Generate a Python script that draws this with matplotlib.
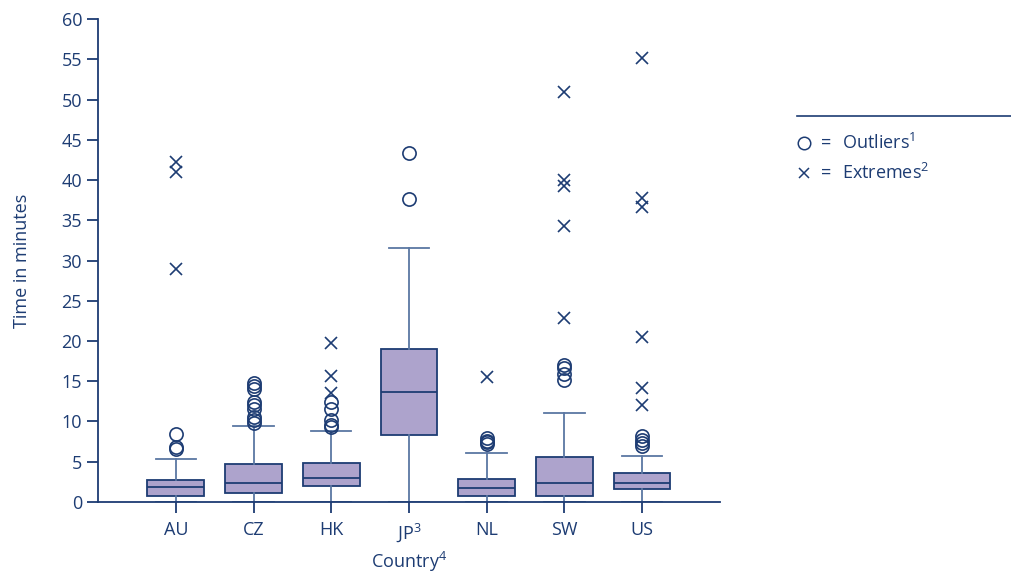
import matplotlib
matplotlib.use("Agg")
import matplotlib.pyplot as plt
from matplotlib.lines import Line2D

plt.rcParams['font.family'] = ['Open Sans', 'DejaVu Sans']
plt.rcParams['mathtext.fontset'] = 'custom'
plt.rcParams['mathtext.rm'] = 'Open Sans'
plt.rcParams['mathtext.it'] = 'Open Sans'
plt.rcParams['mathtext.bf'] = 'Open Sans'

# datos (minutos)
paises = ['AU', 'CZ', 'HK', 'JP$^{3}$', 'NL', 'SW', 'US']
bigote_inf = [0, 0, 0, 0, 0, 0, 0]
q1 = [0.75, 1.15, 2.0, 8.3, 0.75, 0.75, 1.6]
mediana = [1.85, 2.4, 3.0, 13.7, 1.8, 2.4, 2.4]
q3 = [2.7, 4.7, 4.8, 19.0, 2.85, 5.6, 3.6]
bigote_sup = [5.3, 9.5, 8.8, 31.6, 6.1, 11.1, 5.75]
atipicos = [
    [8.5, 6.8, 6.6],
    [14.8, 14.4, 14.0, 12.4, 12.0, 11.6, 10.6, 10.2, 9.8],
    [12.4, 11.5, 10.2, 9.6, 9.3],
    [43.3, 37.6],
    [8.0, 7.6, 7.4, 7.2],
    [17.0, 16.7, 15.9, 15.2],
    [8.2, 7.7, 7.3, 6.9],
]
extremos = [
    [42.2, 41.0, 29.0],
    [],
    [19.8, 15.7, 13.6],
    [],
    [15.5],
    [50.9, 40.0, 39.3, 34.3, 22.9],
    [55.1, 37.8, 36.6, 20.5, 14.1, 12.0],
]

azul = '#1d3c73'
lila = '#ada3cc'

fig = plt.figure(figsize=(10.11, 5.77), dpi=100)
ax = fig.add_axes([0.097, 0.13, 0.615, 0.837])

stats = []
for i in range(len(paises)):
    stats.append({'whislo': bigote_inf[i], 'q1': q1[i], 'med': mediana[i],
                  'q3': q3[i], 'whishi': bigote_sup[i], 'fliers': []})

pos = list(range(1, len(paises) + 1))
ax.bxp(stats, positions=pos, widths=0.73, capwidths=0.52, patch_artist=True,
       showfliers=False,
       boxprops=dict(facecolor=lila, edgecolor=azul, linewidth=1.3),
       medianprops=dict(color=azul, linewidth=1.3),
       whiskerprops=dict(color='#5b77a3', linewidth=1.3),
       capprops=dict(color='#5b77a3', linewidth=1.3))

for i in range(len(paises)):
    ax.plot([pos[i]] * len(atipicos[i]), atipicos[i], 'o', ms=9.5, mfc='none',
            mec=azul, mew=1.2, zorder=4)
    ax.plot([pos[i]] * len(extremos[i]), extremos[i], 'x', ms=8, mec=azul,
            mew=1.2, zorder=4)

ax.set_xlim(0, 8)
ax.set_ylim(0, 60)
ax.set_yticks(range(0, 61, 5))
ax.set_xticks(pos)
ax.set_xticklabels(paises)
for s in ['top', 'right']:
    ax.spines[s].set_visible(False)
for s in ['left', 'bottom']:
    ax.spines[s].set_color(azul)
    ax.spines[s].set_linewidth(1.3)
ax.tick_params(colors=azul, labelsize=13, length=8, width=1.3)
ax.tick_params(axis='x', pad=6)
ax.set_ylabel('Time in minutes', color=azul, fontsize=13, labelpad=22)
ax.set_xlabel('Country$^{4}$', color=azul, fontsize=13, labelpad=4)

# leyenda a mano
fig.add_artist(Line2D([0.788, 1.0], [0.799, 0.799], color=azul, lw=1.2))
fig.add_artist(Line2D([0.795], [0.752], marker='o', ms=9, mfc='none', mec=azul, mew=1.1))
fig.add_artist(Line2D([0.795], [0.700], marker='x', ms=7.5, mec=azul, mew=1.1))
for yy, txt in [(0.752, 'Outliers$^{1}$'), (0.700, 'Extremes$^{2}$')]:
    fig.text(0.812, yy, '=', color=azul, fontsize=13, va='center')
    fig.text(0.833, yy, txt, color=azul, fontsize=13, va='center')

plt.savefig('out.png', dpi=100)
